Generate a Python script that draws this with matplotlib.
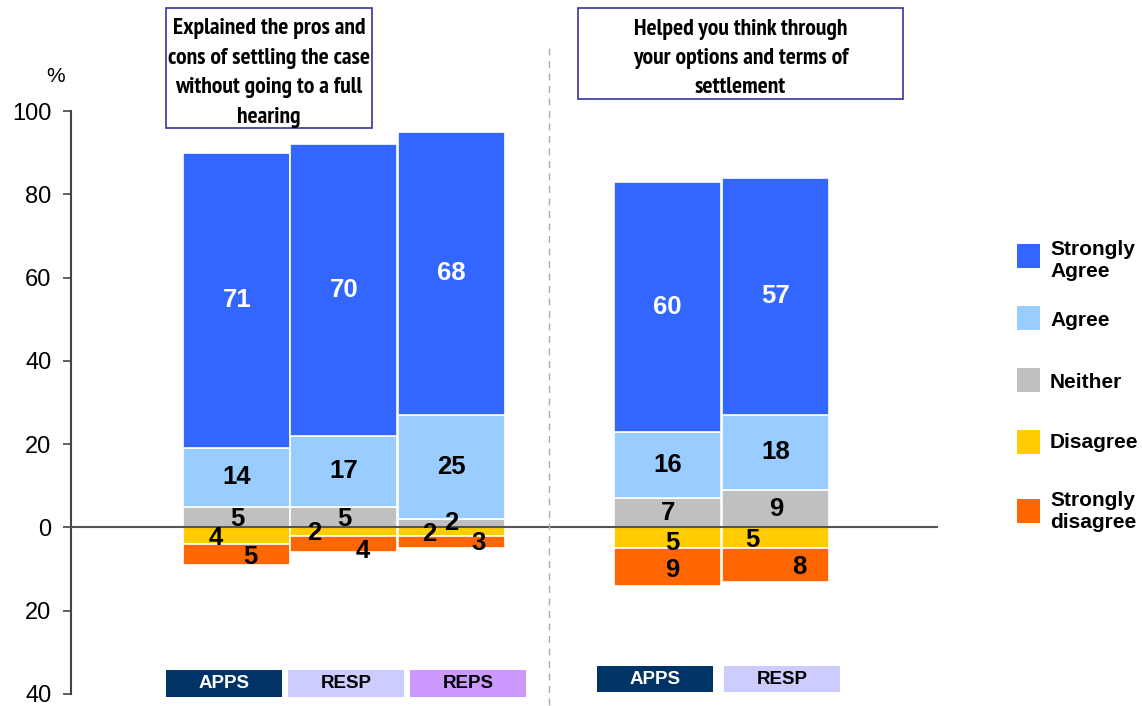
import matplotlib
matplotlib.use("Agg")
import matplotlib.pyplot as plt
from matplotlib.patches import Rectangle
from matplotlib.lines import Line2D
from matplotlib.ticker import FuncFormatter

plt.rcParams['font.family'] = ['Liberation Sans', 'DejaVu Sans']

# ---------------- data ----------------
bar_groups = ["APPS", "RESP", "REPS", "APPS", "RESP"]
panel_titles = ["Explained the pros and\ncons of settling the case\nwithout going to a full\nhearing",
                "Helped you think through\nyour options and terms of\nsettlement"]
categories = ["Strongly\nAgree", "Agree", "Neither", "Disagree", "Strongly\ndisagree"]
strongly_agree = [71, 70, 68, 60, 57]
agree = [14, 17, 25, 16, 18]
neither = [5, 5, 2, 7, 9]
disagree = [4, 2, 2, 5, 5]
strongly_disagree = [5, 4, 3, 9, 8]
yticks = [-40, -20, 0, 20, 40, 60, 80, 100]

# ---------------- style ----------------
colors = ["#3366FF", "#99CCFF", "#C0C0C0", "#FFCC00", "#FF6600"]
group_colors = {"APPS": ("#003366", "white"), "RESP": ("#CCCCFF", "black"), "REPS": ("#CC99FF", "black")}
positions = [1.54, 2.54, 3.545, 5.565, 6.575]
W, H = 1142, 706
title_family = ['PT Sans Narrow', 'Liberation Sans', 'DejaVu Sans']

# label pixel offsets for small segments (neither, disagree, strongly disagree)
small_offsets = [
    [(0, -2), (-21, -2), (13, -3)],
    [(0, -2), (-30, -1), (19, -7)],
    [(0, 0), (-22, -2), (27, -1)],
    [(0, 0), (5, -5), (5, -3)],
    [(0, 0), (-23, -2), (23, -2)],
]

def fx(px):
    return px / W

def fy(py):
    return 1 - py / H

fig = plt.figure(figsize=(W / 100, H / 100), dpi=100)
ax = fig.add_axes([fx(71), fy(694), fx(938) - fx(71), fy(111) - fy(694)])

n = len(bar_groups)
# positive stack
bottom = [0] * n
pos_series = [neither, agree, strongly_agree]
pos_colors = [colors[2], colors[1], colors[0]]
seg_centers = {}
for si, (vals, c) in enumerate(zip(pos_series, pos_colors)):
    ax.bar(positions, vals, width=1.0, bottom=bottom, color=c, edgecolor="white", linewidth=1.2, zorder=2)
    seg_centers[si] = [b + v / 2 for b, v in zip(bottom, vals)]
    bottom = [b + v for b, v in zip(bottom, vals)]
# negative stack
negb = [0] * n
neg_series = [disagree, strongly_disagree]
neg_colors = [colors[3], colors[4]]
for si, (vals, c) in enumerate(zip(neg_series, neg_colors)):
    ax.bar(positions, [-v for v in vals], width=1.0, bottom=negb, color=c, edgecolor="white", linewidth=1.2, zorder=2)
    seg_centers[3 + si] = [b - v / 2 for b, v in zip(negb, vals)]
    negb = [b - v for b, v in zip(negb, vals)]

lab_fs = 18.5
for i in range(n):
    ax.text(positions[i], seg_centers[2][i], str(strongly_agree[i]), ha="center", va="center",
            color="white", fontsize=lab_fs, fontweight="bold", zorder=5)
    ax.text(positions[i], seg_centers[1][i], str(agree[i]), ha="center", va="center",
            color="black", fontsize=lab_fs, fontweight="bold", zorder=5)
    small = [(neither[i], seg_centers[0][i]), (disagree[i], seg_centers[3][i]), (strongly_disagree[i], seg_centers[4][i])]
    for k, (v, yc) in enumerate(small):
        dx, dy = small_offsets[i][k]
        ax.annotate(str(v), (positions[i], yc), xytext=(dx, dy), textcoords="offset pixels",
                    ha="center", va="center", fontsize=lab_fs, fontweight="bold", color="black", zorder=6)

ax.axhline(0, color="#555555", linewidth=1.5, zorder=4)
ax.set_xlim(-0.01, 8.09)
ax.set_ylim(-40, 100)
ax.set_yticks(yticks)
ax.yaxis.set_major_formatter(FuncFormatter(lambda v, p: f"{abs(int(v))}"))
ax.tick_params(axis="y", direction="out", length=6, width=1.2, color="#444444", labelsize=17, pad=8)
ax.set_xticks([])
for s in ["top", "right", "bottom"]:
    ax.spines[s].set_visible(False)
ax.spines["left"].set_color("#444444")
ax.spines["left"].set_linewidth(1.5)
ax.patch.set_visible(False)

fig.text(fx(56), fy(77), "%", ha="center", va="center", fontsize=15)

# divider
fig.add_artist(Line2D([fx(549), fx(549)], [fy(48), fy(706)], color="#AAAAAA", linewidth=1,
                      linestyle=(0, (5, 4))))

# title boxes
boxes = [(166, 8, 372, 128), (578, 8, 903, 99)]
for (x0, y0, x1, y1), t in zip(boxes, panel_titles):
    fig.add_artist(Rectangle((fx(x0), fy(y1)), fx(x1) - fx(x0), fy(y0) - fy(y1), transform=fig.transFigure,
                             facecolor="white", edgecolor="#333399", linewidth=1.2))
    fig.text(fx((x0 + x1) / 2), fy((y0 + y1) / 2 + 5), t, ha="center", va="center", fontsize=17,
             fontweight="bold", linespacing=1.53, family=title_family)

# group labels under bars
glabel_boxes = [(166, 670, 282, 697), (288, 670, 404, 697), (410, 670, 526, 697),
                (597, 666, 713, 692), (724, 666, 840, 692)]
for (x0, y0, x1, y1), g in zip(glabel_boxes, bar_groups):
    fc, tc = group_colors[g]
    fig.add_artist(Rectangle((fx(x0), fy(y1)), fx(x1) - fx(x0), fy(y0) - fy(y1), transform=fig.transFigure,
                             facecolor=fc, edgecolor="none"))
    fig.text(fx((x0 + x1) / 2), fy((y0 + y1) / 2), g, ha="center", va="center", fontsize=13.5,
             fontweight="bold", color=tc)

# legend
leg_y = [256, 318, 380, 442, 511]
leg_text_dy = [5, 3, 2, 1, 0]
for yc, dy, c, lab in zip(leg_y, leg_text_dy, colors, categories):
    fig.add_artist(Rectangle((fx(1017), fy(yc + 12)), fx(1040) - fx(1017), fy(yc - 12) - fy(yc + 12),
                             transform=fig.transFigure, facecolor=c, edgecolor="none"))
    fig.text(fx(1050), fy(yc + dy), lab, ha="left", va="center", fontsize=15, fontweight="bold",
             linespacing=1.2)

fig.savefig("out.png", dpi=100)
